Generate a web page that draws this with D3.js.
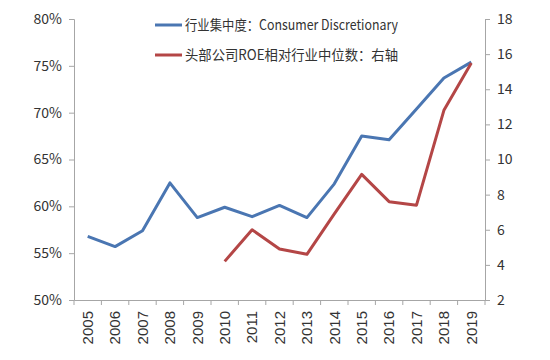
<!DOCTYPE html>
<html><head><meta charset="utf-8">
<script src="https://cdn.jsdelivr.net/npm/d3@7"></script>
<style>body{margin:0;background:#fff}svg{display:block}</style>
</head><body>
<script>
const years = ["2005","2006","2007","2008","2009","2010","2011","2012","2013","2014","2015","2016","2017","2018","2019"];
const concentration = [56.8,55.7,57.4,62.5,58.8,59.9,58.9,60.1,58.8,62.4,67.5,67.1,70.4,73.7,75.4];
const roeRatio = [null,null,null,null,null,4.2,6.0,4.9,4.6,6.9,9.15,7.6,7.4,12.8,15.5];
const leftTicks = [50,55,60,65,70,75,80];
const rightTicks = [2,4,6,8,10,12,14,16,18];
const legendLabels = ["行业集中度：Consumer Discretionary","头部公司ROE相对行业中位数：右轴"];

const W=550,H=360, L=74, R=485, T=19, B=300;
const svg=d3.select("body").append("svg").attr("width",W).attr("height",H);
const x=d3.scaleBand().domain(years).range([L,R]);
const yL=d3.scaleLinear().domain([50,80]).range([B,T]);
const yR=d3.scaleLinear().domain([2,18]).range([B,T]);
const axisColor="#a6a6a6";
const font="'Noto Sans CJK SC', 'Noto Sans', sans-serif";

const gl=svg.append("g").attr("transform",`translate(${L},0)`)
  .call(d3.axisLeft(yL).tickValues(leftTicks).tickSize(5).tickPadding(7).tickFormat(d=>d+"%"));
const gr=svg.append("g").attr("transform",`translate(${R},0)`)
  .call(d3.axisRight(yR).tickValues(rightTicks).tickSize(5).tickPadding(7));
const gb=svg.append("g").attr("transform",`translate(0,${B})`)
  .call(d3.axisBottom(x).tickSize(0).tickPadding(0));
gb.selectAll(".bt").data(years.concat(["end"])).enter().append("line")
  .attr("x1",(d,i)=>L+i*x.step()).attr("x2",(d,i)=>L+i*x.step())
  .attr("y1",0).attr("y2",5).attr("stroke",axisColor);
gb.selectAll(".tick text").attr("transform","rotate(-90)").attr("text-anchor","end")
  .attr("x",-11).attr("y",0).attr("dy","0.35em")
  .style("font-family","'Liberation Sans', Arial, sans-serif").style("font-size","15px").attr("fill","#333");
[gl,gr,gb].forEach(g=>{g.selectAll(".domain").attr("stroke",axisColor);g.selectAll(".tick line").attr("stroke",axisColor);});
[gl,gr].forEach(g=>g.selectAll(".tick text").style("font-family",font).style("font-size","14px").attr("fill","#333"));

const cx=d=>x(d)+x.bandwidth()/2;
const lineL=d3.line().x((d,i)=>cx(years[i])).y(d=>yL(d));
svg.append("path").attr("d",lineL(concentration)).attr("fill","none").attr("stroke","#4a76b2").attr("stroke-width",3).attr("stroke-linejoin","round");
const lineR=d3.line().defined(d=>d!=null).x((d,i)=>cx(years[i])).y(d=>yR(d));
svg.append("path").attr("d",lineR(roeRatio)).attr("fill","none").attr("stroke","#b44646").attr("stroke-width",3).attr("stroke-linejoin","round");

const colors=["#4a76b2","#b44646"];
legendLabels.forEach((t,i)=>{
  const yy=25+i*30;
  svg.append("line").attr("x1",155).attr("x2",182).attr("y1",yy).attr("y2",yy).attr("stroke",colors[i]).attr("stroke-width",3);
  svg.append("text").attr("x",185).attr("y",yy).attr("dy","0.35em").text(t)
    .attr("textLength",213).attr("lengthAdjust","spacingAndGlyphs")
    .style("font-family",font).style("font-size","14px").attr("fill","#333");
});
</script>
</body></html>
